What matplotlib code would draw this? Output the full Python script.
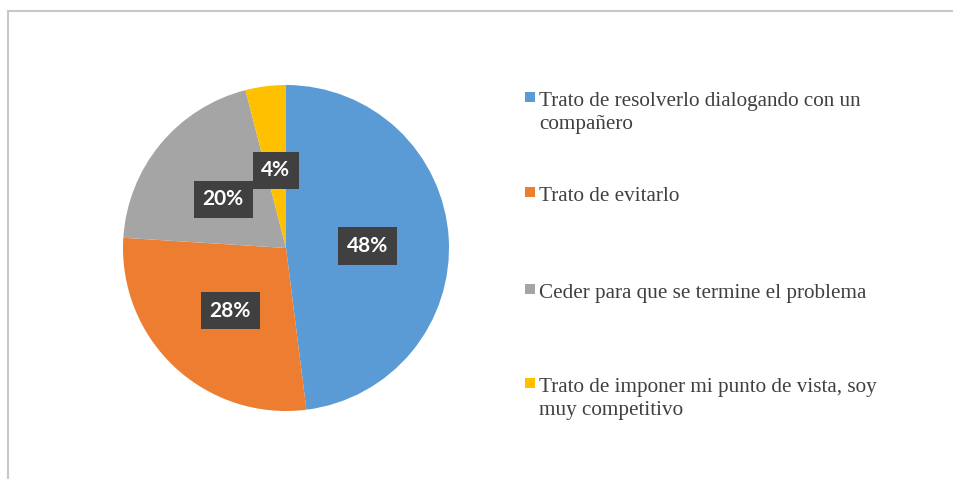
import matplotlib
matplotlib.use("Agg")
import matplotlib.pyplot as plt
from matplotlib.lines import Line2D
from matplotlib.patches import Rectangle

# data
labels = [
    "Trato de resolverlo dialogando con un\ncompañero",
    "Trato de evitarlo",
    "Ceder para que se termine el problema",
    "Trato de imponer mi punto de vista, soy\nmuy competitivo",
]
values = [48, 28, 20, 4]
colors = ["#5B9BD5", "#ED7D31", "#A5A5A5", "#FFC000"]

W, H = 954, 479
fig = plt.figure(figsize=(W / 100, H / 100), dpi=100)

# pie placed so its centre is at ~(286, 248) px, radius ~163 px
cx, cy, r = 286, 248, 163
ax = fig.add_axes([(cx - r) / W, (H - cy - r) / H, 2 * r / W, 2 * r / H])
wedges, texts, autotexts = ax.pie(
    values, colors=colors, startangle=90, counterclock=False,
    autopct=lambda p: f"{p:.0f}%", pctdistance=0.5, radius=1,
    wedgeprops=dict(linewidth=0),
)
for t in autotexts:
    x, y = t.get_position()
    t.set_position((x, y - 0.02))
    t.set_color("white")
    t.set_fontfamily("Lato")
    t.set_fontweight("bold")
    t.set_fontsize(15)
    t.set_bbox(dict(boxstyle="square,pad=0.42", facecolor="#404040", edgecolor="none"))
ax.set_xlim(-1, 1)
ax.set_ylim(-1, 1)
ax.set_aspect("equal")
ax.axis("off")

# legend drawn by hand to match spacing
item_y = [100, 195, 292, 386]
for lab, col, y in zip(labels, colors, item_y):
    fig.patches.append(Rectangle((525 / W, 1 - (y + 2) / H), 10 / W, 10 / H,
                                 transform=fig.transFigure, facecolor=col,
                                 edgecolor="none"))
    fig.text(539 / W, 1 - (y - 8) / H, lab, ha="left", va="top",
             fontfamily="Liberation Serif", fontsize=15.2, color="#404040",
             linespacing=1.32)

# frame lines (top and left only are visible)
fig.lines.append(Line2D([8 / W, 1], [1 - 10.5 / H, 1 - 10.5 / H],
                        transform=fig.transFigure, color="#C8C8C8", lw=1.5))
fig.lines.append(Line2D([8 / W, 8 / W], [0, 1 - 10.5 / H],
                        transform=fig.transFigure, color="#C8C8C8", lw=1.5))

fig.savefig("out.png", dpi=100)
